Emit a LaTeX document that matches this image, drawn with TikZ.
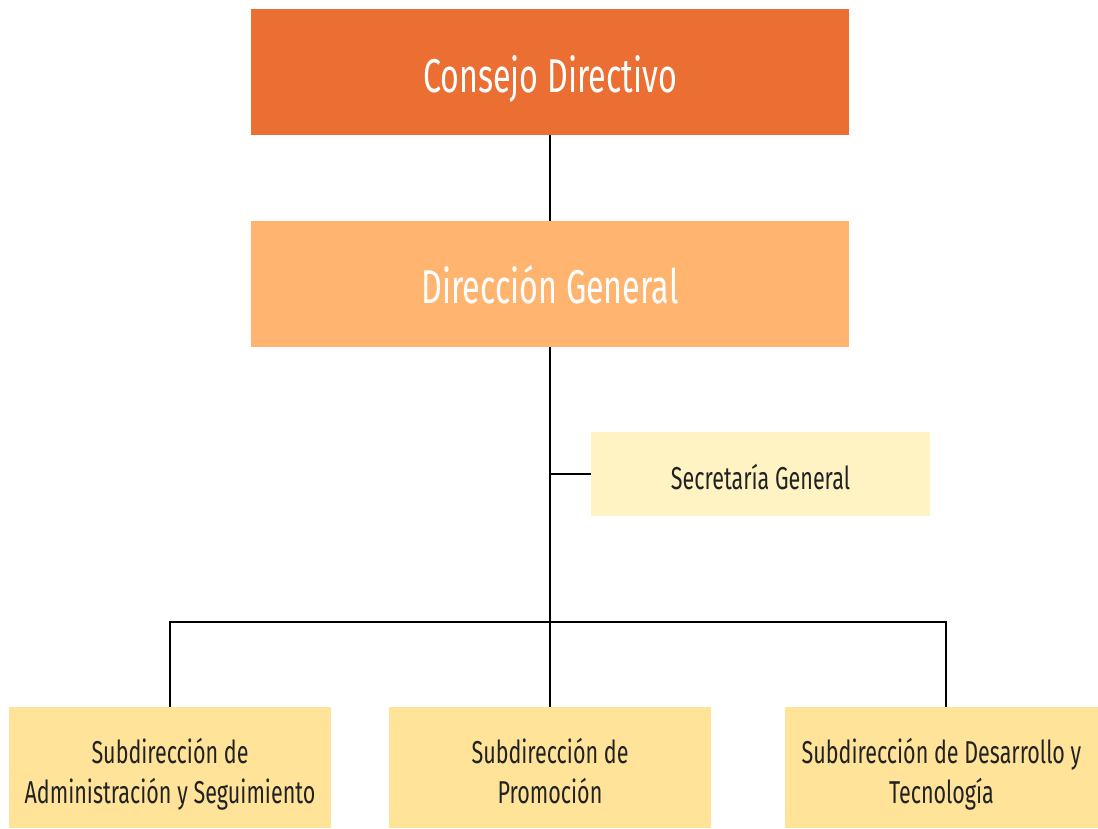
\documentclass[tikz,border=0pt]{standalone}
\usepackage{fontspec}
\setmainfont{Fira Sans}[FakeStretch=0.68]
\definecolor{cdcol}{HTML}{EB6E33}
\definecolor{dgcol}{HTML}{FFB470}
\definecolor{sgcol}{HTML}{FFF3C4}
\definecolor{subcol}{HTML}{FFE399}
\definecolor{txt}{HTML}{222222}
\begin{document}
\begin{tikzpicture}[x=0.02cm,y=-0.02cm,
  box/.style={inner sep=0pt,align=center,draw=none},
  big/.style={box,text=white,font=\fontsize{27}{32}\selectfont},
  small/.style={box,text=txt,font=\fontsize{18}{22.2}\selectfont},
  sub/.style={small,fill=subcol,minimum height=121*0.02cm,text height=1.92cm,text depth=0.5cm},
  conn/.style={draw=black,line width=1.1pt}]
\useasboundingbox (0,0) rectangle (1098,828);
\fill[white] (0,0) rectangle (1098,828);
\node[big,fill=cdcol,minimum width=598*0.02cm,minimum height=126*0.02cm,text height=0.94cm,text depth=0.1cm] (cd) at (550,72) {Consejo Directivo};
\node[big,fill=dgcol,minimum width=598*0.02cm,minimum height=126*0.02cm,text height=0.9cm,text depth=0.1cm] (dg) at (550,284) {Dirección General};
\node[small,fill=sgcol,minimum width=339*0.02cm,minimum height=84*0.02cm,text height=0.7cm,text depth=0.1cm] (sg) at (760.5,474) {Secretaría General};
\node[sub,minimum width=322*0.02cm] (sa) at (170,767.5) {Subdirección de\\Administración y Seguimiento};
\node[sub,minimum width=322*0.02cm] (sp) at (550,767.5) {Subdirección de\\Promoción};
\node[sub,minimum width=313*0.02cm] (sd) at (941.5,767.5) {Subdirección de Desarrollo y\\Tecnología};
\coordinate (j) at (550,622);
\coordinate (rd) at ([xshift=0.09cm]sd.north);
\draw[conn] (cd.south) -- (dg.north);
\draw[conn] (dg.south) -- (sp.north);
\draw[conn] (dg.south |- sg.west) -- (sg.west);
\draw[conn] (sa.north) |- (j) -| (rd);
\end{tikzpicture}
\end{document}
